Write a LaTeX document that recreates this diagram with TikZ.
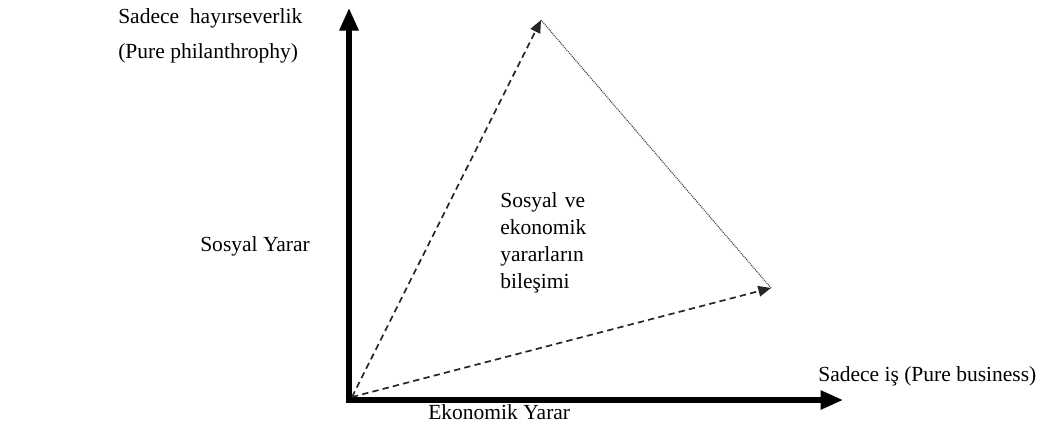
\documentclass[tikz,border=0pt]{standalone}
\usepackage{fontspec}
\setmainfont{Liberation Serif}
\usetikzlibrary{arrows.meta}

\begin{document}
\begin{tikzpicture}[
    x=0.025cm, y=-0.025cm,
    axis/.style={line width=3.6pt, -{Triangle[length=16pt, width=13pt]}},
    share/.style={line width=1.2pt, black!85, dash pattern=on 4.5pt off 3pt, -{Triangle[length=9pt, width=7.5pt]}},
    link/.style={line width=0.8pt, black!75, dash pattern=on 0.7pt off 0.7pt},
    label/.style={font=\fontsize{15.3}{18}\selectfont, anchor=base west, inner sep=0pt}
]
    \useasboundingbox (0,0) rectangle (1044,429);

    % axes
    \coordinate (Ybase) at (349,402.5);
    \coordinate (Ytop) at (349,8);
    \coordinate (Xbase) at (347,400);
    \coordinate (Xend) at (843,400);
    \draw[axis] (Ybase) -- (Ytop);
    \draw[axis] (Xbase) -- (Xend);

    % triangle
    \coordinate (start) at (352,397);
    \coordinate (apex) at (541,20);
    \coordinate (mix) at (771,288);
    \draw[share] (start) -- (apex);
    \draw[share] (start) -- (mix);
    \draw[link] (apex) -- (mix);

    % labels
    \node[label] (pure) at (118,23) {Sadece\ \ hayırseverlik};
    \node[label] (purephil) at (118,58) {(Pure philanthrophy)};
    \node[label] (social) at (200,251) {Sosyal Yarar};
    \node[label] (econ) at (428,419) {Ekonomik Yarar};
    \node[label] (business) at (818,381) {Sadece iş (Pure business)};
    \node[font=\fontsize{15.3}{19.2}\selectfont, anchor=north west, inner sep=0pt,
          text width=2.12cm, align=left] (combo) at (500,192)
          {Sosyal\hfill ve\\ ekonomik\\ yararların\\ bileşimi};
\end{tikzpicture}
\end{document}
